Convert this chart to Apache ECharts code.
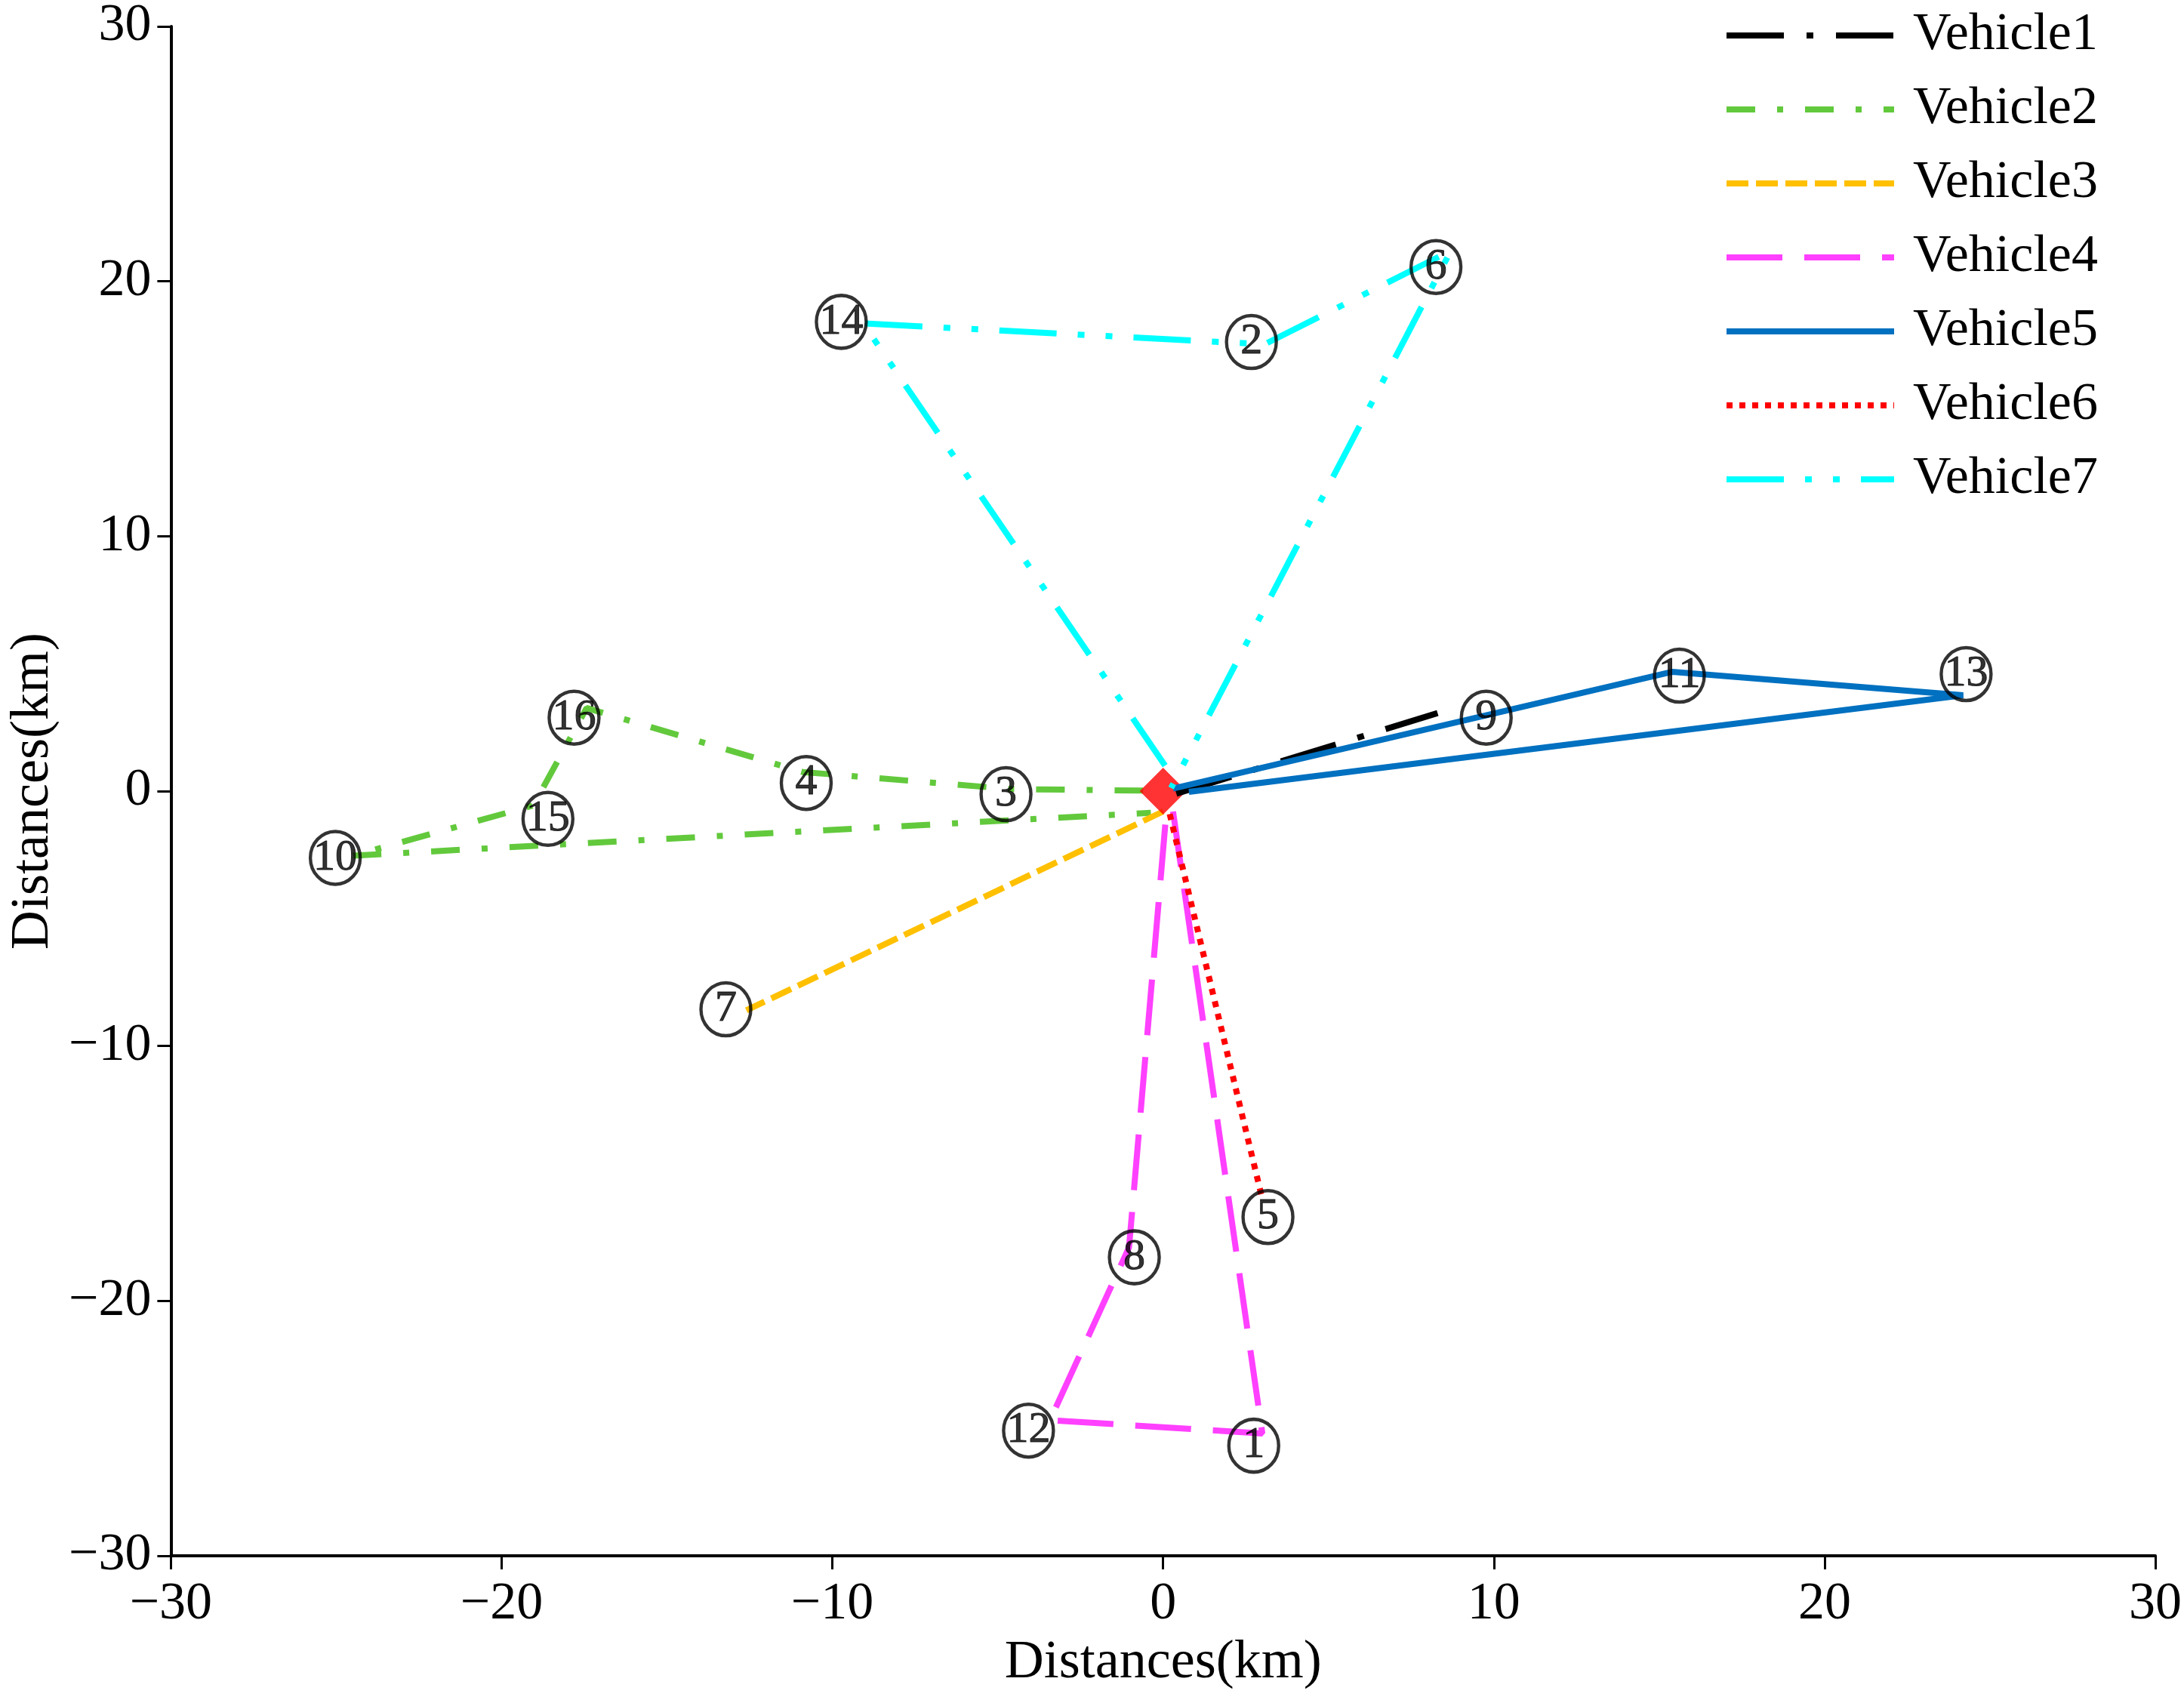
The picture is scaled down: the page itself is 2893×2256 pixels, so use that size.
<!DOCTYPE html>
<html>
<head>
<meta charset="utf-8">
<script src="https://cdn.jsdelivr.net/npm/echarts@6/dist/echarts.min.js"></script>
<style>
html,body{margin:0;padding:0;background:#fff;}
#chart{width:2893px;height:2256px;}
</style>
</head>
<body>
<div id="chart"></div>
<script>
// ---- data (km) ----
const vehicleNames = ['Vehicle1','Vehicle2','Vehicle3','Vehicle4','Vehicle5','Vehicle6','Vehicle7'];
const depot = [[0, 0]];
const route1 = [[0.4, -0.1], [8.3, 3.06]];
const route2 = [[-0.6, 0.02], [-4.6, 0.08], [-10.9, 0.75], [-17.43, 3.26], [-19.04, -0.56], [-24.48, -2.53], [-0.37, -0.85]];
const route3 = [[0.0, -0.8], [-12.6, -8.6]];
const route4 = [[0.3, -0.8], [3.0, -25.2], [-3.42, -24.68], [-1.03, -17.9], [0.1, -0.8]];
const route5 = [[0.3, 0.1], [15.4, 4.68], [24.19, 3.76], [0.78, -0.03]];
const route6 = [[0.2, -0.9], [3.0, -16.0]];
const route7 = [[0.06, 1.0], [-9.07, 18.35], [3.07, 17.53], [8.7, 21.2], [0.24, 0.12]];
const customerIds = [1, 2, 3, 4, 5, 6, 7, 8, 9, 10, 11, 12, 13, 14, 15, 16];
const labelX = [2.74, 2.67, -4.75, -10.79, 3.17, 8.25, -13.22, -0.87, 9.77, -25.03, 15.61, -4.07, 24.28, -9.73, -18.6, -17.81];
const labelY = [-25.68, 17.62, -0.12, 0.32, -16.71, 20.56, -8.56, -18.29, 2.88, -2.62, 4.53, -25.09, 4.59, 18.41, -1.09, 2.88];
const axisTicks = [-30, -20, -10, 0, 10, 20, 30];

// ---- styles ----
const routes = [route1, route2, route3, route4, route5, route6, route7];
const colors = ['#000000', '#62C93C', '#FFC000', '#FF40FF', '#0070C0', '#FF0000', '#00FFFF'];
const dashes = [
  [76, 30, 9, 30],
  [38, 29, 8, 29],
  [29, 10],
  [74, 29],
  'solid',
  [8, 9],
  [76, 28, 9, 28, 9, 28]
];
const zs = [3, 1, 1, 1, 3, 1, 3];
const FONT = 'Liberation Serif';

const series = routes.map((r, i) => ({
  name: vehicleNames[i],
  type: 'line',
  data: r,
  symbol: 'none',
  showSymbol: false,
  z: zs[i],
  color: colors[i],
  lineStyle: { color: colors[i], width: 8, type: dashes[i] },
  animation: false
}));

series.push({
  name: 'depot',
  type: 'scatter',
  data: depot,
  symbol: 'diamond',
  symbolSize: [62, 62],
  itemStyle: { color: '#FF0000' },
  z: 2,
  animation: false
});

series.push({
  name: 'customers',
  type: 'scatter',
  data: customerIds.map((id, i) => [labelX[i], labelY[i], id]),
  symbol: 'circle',
  symbolSize: [66, 70],
  itemStyle: { color: 'rgba(255,255,255,0)', borderColor: '#000', borderWidth: 4.5 },
  label: {
    show: true,
    position: 'inside',
    formatter: p => String(p.value[2]),
    color: '#000',
    fontFamily: FONT,
    fontSize: 58,
    textBorderColor: '#000',
    textBorderWidth: 1
  },
  z: 5,
  animation: false
});

const fmt = v => (v < 0 ? '\u2212' + Math.abs(v) : String(v));

const axisCommon = {
  type: 'value',
  min: axisTicks[0],
  max: axisTicks[axisTicks.length - 1],
  interval: 10,
  splitLine: { show: false },
  axisLine: { show: true, onZero: false, lineStyle: { color: '#000', width: 4 } },
  axisTick: { show: true, inside: false, length: 18, lineStyle: { color: '#000', width: 3 } },
  axisLabel: { color: '#000', fontFamily: FONT, fontSize: 70, formatter: fmt },
  name: 'Distances(km)',
  nameLocation: 'middle',
  nameTextStyle: { color: '#000', fontFamily: FONT, fontSize: 72 }
};

const option = {
  backgroundColor: '#ffffff',
  animation: false,
  grid: { left: 213, right: 37, top: 21, bottom: 195, containLabel: false },
  xAxis: Object.assign({}, axisCommon, {
    axisLabel: Object.assign({}, axisCommon.axisLabel, { margin: 30 }),
    nameGap: 106
  }),
  yAxis: Object.assign({}, axisCommon, {
    axisLabel: Object.assign({}, axisCommon.axisLabel, { margin: 26 }),
    nameGap: 130
  }),
  legend: {
    data: vehicleNames,
    orient: 'vertical',
    left: 2278,
    top: 6,
    itemWidth: 222,
    itemHeight: 24,
    itemGap: 26,
    itemStyle: { opacity: 0 },
    lineStyle: { width: 8 },
    textStyle: { color: '#000', fontFamily: FONT, fontSize: 70, lineHeight: 72, padding: [0, 0, 0, 20] }
  },
  series: series
};

const chart = echarts.init(document.getElementById('chart'), null, { renderer: 'canvas' });
chart.setOption(option);
</script>
</body>
</html>
